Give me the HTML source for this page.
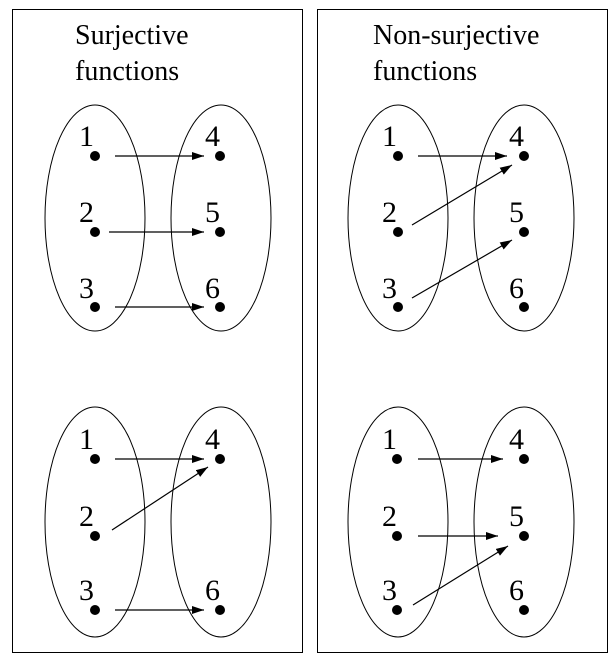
<!DOCTYPE html>
<html><head><style>body{margin:0;background:#fff} text{font-family:"Liberation Serif","DejaVu Serif",serif}</style></head><body>
<svg width="615" height="664" xmlns="http://www.w3.org/2000/svg" style="font-family:'Liberation Serif',serif">
<defs><marker id="a" markerWidth="12" markerHeight="8" refX="12" refY="4" orient="auto" markerUnits="userSpaceOnUse"><path d="M0,0 L12,4 L0,8 z" fill="#000"/></marker></defs>
<g fill="none" stroke="#000" stroke-width="1">
<rect x="12.5" y="9.5" width="290" height="643"/>
<rect x="317.5" y="9.5" width="290" height="643"/>
<ellipse cx="95" cy="218" rx="50" ry="113"/>
<ellipse cx="221" cy="218" rx="50" ry="113"/>
<ellipse cx="95" cy="522" rx="50" ry="115"/>
<ellipse cx="221" cy="522" rx="50" ry="115"/>
<ellipse cx="398" cy="218" rx="50" ry="113"/>
<ellipse cx="524" cy="218" rx="50" ry="113"/>
<ellipse cx="398" cy="522" rx="50" ry="115"/>
<ellipse cx="524" cy="522" rx="50" ry="115"/>
</g>
<g stroke="#000" stroke-width="1.2" marker-end="url(#a)">
<line x1="115" y1="156" x2="204" y2="156"/>
<line x1="109" y1="232" x2="204" y2="232"/>
<line x1="115" y1="307" x2="204" y2="307"/>
<line x1="115" y1="459" x2="204" y2="459"/>
<line x1="112" y1="530" x2="208" y2="467"/>
<line x1="115" y1="610" x2="204" y2="610"/>
<line x1="418" y1="156" x2="507" y2="156"/>
<line x1="412" y1="225" x2="512" y2="165"/>
<line x1="412" y1="298" x2="512" y2="240"/>
<line x1="418" y1="459" x2="503" y2="459"/>
<line x1="418" y1="536" x2="498" y2="536"/>
<line x1="413" y1="605" x2="508" y2="546"/>
</g>
<g fill="#000">
<circle cx="95" cy="156" r="5"/><circle cx="95" cy="232" r="5"/><circle cx="95" cy="307" r="5"/>
<circle cx="220" cy="156" r="5"/><circle cx="220" cy="232" r="5"/><circle cx="220" cy="307" r="5"/>
<circle cx="95" cy="459" r="5"/><circle cx="95" cy="536" r="5"/><circle cx="95" cy="610" r="5"/>
<circle cx="220" cy="459" r="5"/><circle cx="220" cy="610" r="5"/>
<circle cx="398" cy="156" r="5"/><circle cx="398" cy="232" r="5"/><circle cx="398" cy="307" r="5"/>
<circle cx="524" cy="156" r="5"/><circle cx="524" cy="232" r="5"/><circle cx="524" cy="307" r="5"/>
<circle cx="397" cy="459" r="5"/><circle cx="397" cy="536" r="5"/><circle cx="397" cy="610" r="5"/>
<circle cx="524" cy="459" r="5"/><circle cx="524" cy="536" r="5"/><circle cx="524" cy="610" r="5"/>
</g>
<g font-size="30" fill="#000">
<text x="79" y="146">1</text><text x="79" y="222">2</text><text x="79" y="298">3</text>
<text x="205" y="146">4</text><text x="205" y="222">5</text><text x="205" y="298">6</text>
<text x="79" y="449">1</text><text x="79" y="526">2</text><text x="79" y="600">3</text>
<text x="205" y="449">4</text><text x="205" y="600">6</text>
<text x="382" y="146">1</text><text x="382" y="222">2</text><text x="382" y="298">3</text>
<text x="509" y="146">4</text><text x="509" y="222">5</text><text x="509" y="298">6</text>
<text x="382" y="449">1</text><text x="382" y="526">2</text><text x="382" y="600">3</text>
<text x="509" y="449">4</text><text x="509" y="526">5</text><text x="509" y="600">6</text>
</g>
<g font-size="28" fill="#000">
<text x="75" y="44">Surjective</text><text x="75" y="80">functions</text>
<text x="373" y="44">Non-surjective</text><text x="373" y="80">functions</text>
</g>
</svg>
</body></html>
